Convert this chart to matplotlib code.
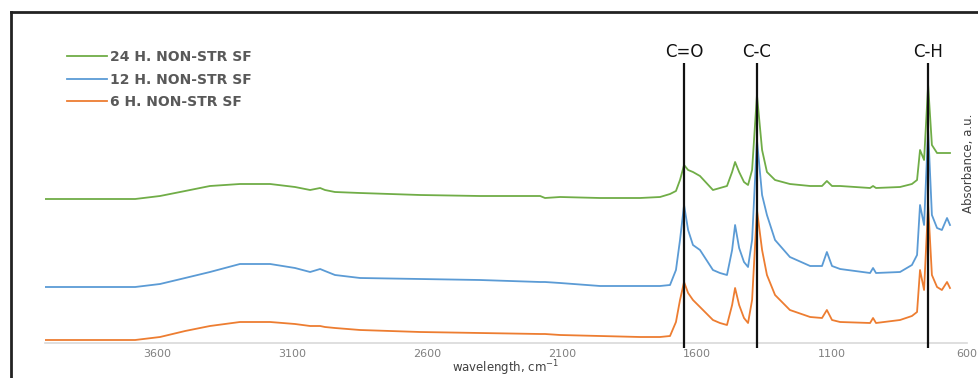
import matplotlib
matplotlib.use("Agg")
import matplotlib.pyplot as plt
from matplotlib.lines import Line2D

# wavenumbers, cm-1
wn = [4015, 3681, 3589, 3496, 3404, 3293, 3181, 3089, 3033, 2996,
      2978, 2941, 2848, 2626, 2404, 2181, 2163, 2107, 1959, 1811,
      1737, 1700, 1678, 1663, 1648, 1633, 1615, 1589, 1541, 1515,
      1489, 1470, 1459, 1444, 1426, 1411, 1396, 1378, 1359, 1341,
      1311, 1256, 1181, 1137, 1119, 1100, 1070, 959, 948, 937,
      848, 804, 785, 774, 759, 744, 730, 711, 693, 674, 663]

abs_24h = [1.44, 1.44, 1.47, 1.52, 1.57, 1.59, 1.59, 1.56, 1.53, 1.55,
           1.53, 1.51, 1.50, 1.48, 1.47, 1.47, 1.45, 1.46, 1.45, 1.45,
           1.46, 1.49, 1.52, 1.63, 1.78, 1.73, 1.71, 1.67, 1.53, 1.55,
           1.57, 1.71, 1.81, 1.71, 1.61, 1.58, 1.73, 2.48, 1.93, 1.71,
           1.63, 1.59, 1.57, 1.57, 1.62, 1.57, 1.57, 1.55, 1.57, 1.55,
           1.56, 1.59, 1.63, 1.93, 1.83, 2.58, 1.98, 1.90, 1.90, 1.90, 1.90]

abs_12h = [0.56, 0.56, 0.59, 0.65, 0.71, 0.79, 0.79, 0.75, 0.71, 0.74,
           0.72, 0.68, 0.65, 0.64, 0.63, 0.61, 0.61, 0.60, 0.57, 0.57,
           0.57, 0.58, 0.73, 1.03, 1.38, 1.13, 0.98, 0.93, 0.73, 0.70,
           0.68, 0.93, 1.18, 0.95, 0.81, 0.76, 1.03, 2.03, 1.48, 1.28,
           1.03, 0.86, 0.77, 0.77, 0.91, 0.77, 0.74, 0.70, 0.75, 0.70,
           0.71, 0.78, 0.88, 1.38, 1.18, 2.13, 1.28, 1.15, 1.13, 1.25, 1.18]

abs_6h = [0.03, 0.03, 0.06, 0.12, 0.17, 0.21, 0.21, 0.19, 0.17, 0.17,
          0.16, 0.15, 0.13, 0.11, 0.10, 0.09, 0.09, 0.08, 0.07, 0.06,
          0.06, 0.07, 0.21, 0.43, 0.61, 0.50, 0.43, 0.36, 0.23, 0.20,
          0.18, 0.38, 0.55, 0.38, 0.25, 0.20, 0.43, 1.33, 0.93, 0.68,
          0.48, 0.33, 0.26, 0.25, 0.33, 0.23, 0.21, 0.20, 0.25, 0.20,
          0.23, 0.27, 0.31, 0.73, 0.53, 1.38, 0.68, 0.56, 0.53, 0.61, 0.55]

bond_labels = ["C=O", "C-C", "C-H"]
bond_wn = [1648, 1378, 744]

ticks = [3600, 3100, 2600, 2100, 1600, 1100, 600]

W, H = 979, 378
fig = plt.figure(figsize=(W / 100, H / 100), dpi=100)
ax = fig.add_axes([45 / W, 1 - 343 / H, (967 - 45) / W, (343 - 20) / H])

l6, = ax.plot(wn, abs_6h, color="#ED7D31", lw=1.3)
l12, = ax.plot(wn, abs_12h, color="#5B9BD5", lw=1.3)
l24, = ax.plot(wn, abs_24h, color="#70AD47", lw=1.3)

# peak markers
ax.vlines(bond_wn, -0.05, 2.80, colors="#111111", lw=1.6, zorder=5, clip_on=False)
for lab, x in zip(bond_labels, bond_wn):
    ax.text(x, 2.91, lab, ha="center", va="center", fontsize=12, color="#111111")

ax.set_xlim(4015, 600)
ax.set_ylim(0, 3.23)
ax.set_xticks(ticks)
ax.set_xticklabels([str(t) for t in ticks], fontsize=8, color="#808080")
ax.tick_params(axis="x", length=0, pad=4)
ax.set_yticks([])
for s in ["top", "right", "left"]:
    ax.spines[s].set_visible(False)
ax.spines["bottom"].set_color("#d9d9d9")
ax.spines["bottom"].set_linewidth(1.2)
ax.set_xlabel("wavelength, cm$^{-1}$", fontsize=8.5, color="#404040", labelpad=0)

leg = ax.legend([l24, l12, l6], ["24 H. NON-STR SF", "12 H. NON-STR SF", "6 H. NON-STR SF"],
                loc="upper left", bbox_to_anchor=(0.01, 0.945), frameon=False,
                handlelength=2.9, handletextpad=0.2, labelspacing=0.6,
                prop={"size": 10, "weight": "bold"})
for t in leg.get_texts():
    t.set_color("#595959")

fig.text(969 / W, 1 - 163 / H, "Absorbance, a.u.", rotation=90, ha="center", va="center",
         fontsize=8.5, color="#404040")

# frame around the figure
fig.add_artist(Line2D([11 / W, 11 / W], [0, 1 - 12 / H], color="#222222", lw=2))
fig.add_artist(Line2D([11 / W, 1], [1 - 12 / H, 1 - 12 / H], color="#222222", lw=2))

fig.savefig("out.png", dpi=100)
